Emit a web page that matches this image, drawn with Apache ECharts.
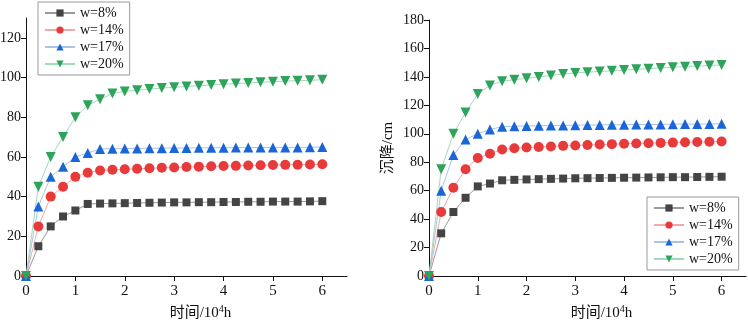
<!DOCTYPE html>
<html>
<head>
<meta charset="utf-8">
<script src="https://cdn.jsdelivr.net/npm/echarts@6/dist/echarts.min.js"></script>
<style>
  html, body { margin: 0; padding: 0; background: #fff; }
  #chart { width: 748px; height: 325px; }
</style>
</head>
<body>
<div id="chart"></div>
<script>
// 时间 (10^4 h)
const times = [0, 0.25, 0.5, 0.75, 1, 1.25, 1.5, 1.75, 2, 2.25, 2.5, 2.75, 3, 3.25, 3.5, 3.75, 4, 4.25, 4.5, 4.75, 5, 5.25, 5.5, 5.75, 6];
const names = ['w=8%', 'w=14%', 'w=17%', 'w=20%'];
const xTicks = [0, 1, 2, 3, 4, 5, 6];
const leftYTicks = [0, 20, 40, 60, 80, 100, 120];
const rightYTicks = [0, 20, 40, 60, 80, 100, 120, 140, 160, 180];

// 左图
const left8 = [0, 15, 25, 30, 33, 36.3, 36.5, 36.6, 36.7, 36.8, 36.9, 37.0, 37.1, 37.1, 37.2, 37.2, 37.3, 37.3, 37.4, 37.4, 37.5, 37.5, 37.5, 37.6, 37.7];
const left14 = [0, 25, 40, 45, 50, 52, 53.2, 53.5, 53.8, 54, 54.3, 54.5, 54.7, 54.9, 55.1, 55.3, 55.4, 55.5, 55.7, 55.8, 55.9, 56, 56.1, 56.2, 56.3];
const left17 = [0, 35, 50, 55, 60, 62, 64, 64.1, 64.2, 64.3, 64.4, 64.4, 64.5, 64.5, 64.6, 64.6, 64.6, 64.7, 64.7, 64.7, 64.8, 64.8, 64.8, 64.9, 65];
const left20 = [0, 45, 60, 70, 80, 86, 89, 92, 93, 93.6, 94.2, 94.7, 95.1, 95.5, 95.9, 96.3, 96.6, 97.0, 97.3, 97.6, 97.9, 98.2, 98.4, 98.6, 98.9];

// 右图
const right8 = [0, 30, 45, 55, 63, 65, 67.3, 67.6, 67.9, 68.1, 68.3, 68.5, 68.7, 68.8, 68.9, 69, 69.1, 69.2, 69.3, 69.4, 69.5, 69.5, 69.6, 69.7, 69.8];
const right14 = [0, 45, 62, 75, 83, 86, 89, 89.8, 90.3, 90.7, 91.1, 91.5, 91.8, 92.1, 92.4, 92.7, 93, 93.2, 93.4, 93.6, 93.8, 94, 94.2, 94.4, 94.6];
const right17 = [0, 60, 85, 96, 100, 103, 105, 105.3, 105.5, 105.6, 105.8, 105.9, 106, 106.1, 106.2, 106.3, 106.4, 106.5, 106.5, 106.6, 106.7, 106.8, 106.8, 106.9, 107];
const right20 = [0, 75, 100, 115, 128, 134, 137, 138, 139, 140, 141, 142, 142.8, 143.3, 143.8, 144.3, 144.8, 145.3, 145.8, 146.3, 146.8, 147.2, 147.6, 148, 148.4];

const styles = [
  { symbol: 'rect', size: 8, color: '#444444', line: '#9a9a9a' },
  { symbol: 'circle', size: 10, color: '#e83a3a', line: '#eeaaaa' },
  { symbol: 'triangle', size: 10, color: '#1b66d6', line: '#a9c3e6' },
  { symbol: 'path://M0,0 L10,0 L5,9 Z', size: 10, color: '#2ea35c', line: '#a3d9bb' }
];

const serif = '"Liberation Serif", "Noto Sans CJK SC", serif';
const txt = { fontFamily: serif, fontSize: 15, color: '#111' };

function pair (xs, ys) {
  return xs.map((x, i) => [x, ys[i]]);
}

function makeSeries (data, idx) {
  return data.map((d, i) => ({
    name: names[i],
    type: 'line',
    xAxisIndex: idx,
    yAxisIndex: idx,
    data: pair(times, d),
    symbol: styles[i].symbol,
    symbolSize: styles[i].size,
    showSymbol: true,
    itemStyle: { color: styles[i].color },
    lineStyle: { color: styles[i].line, width: 1 },
    emphasis: { disabled: true },
    animation: false
  }));
}

function xAxis (idx) {
  return {
    type: 'value',
    gridIndex: idx,
    min: 0,
    max: 6.5,
    interval: 1,
    splitLine: { show: false },
    axisLine: { onZero: false, lineStyle: { color: '#111', width: 1 } },
    axisTick: { customValues: xTicks, length: 5, lineStyle: { color: '#111' } },
    axisLabel: Object.assign({ customValues: xTicks, margin: 8 }, txt),
    name: '时间/10{sup|4}h',
    nameLocation: 'middle',
    nameGap: 28,
    nameTextStyle: Object.assign({
      padding: [0, 0, 0, 28],
      rich: { sup: { fontFamily: serif, fontSize: 10, color: '#111', verticalAlign: 'top', padding: [0, 0, 8, 0] } }
    }, txt)
  };
}

function yAxis (idx, max, ticks, name) {
  return {
    type: 'value',
    gridIndex: idx,
    min: 0,
    max: max,
    interval: 20,
    splitLine: { show: false },
    axisLine: { show: true, lineStyle: { color: '#111', width: 1 } },
    axisTick: { show: true, customValues: ticks, length: 5, lineStyle: { color: '#111' } },
    axisLabel: Object.assign({ customValues: ticks, margin: 5 }, txt, { fontSize: 14 }),
    name: name,
    nameLocation: 'middle',
    nameGap: 33,
    nameTextStyle: txt
  };
}

function legend (idx, pos) {
  return Object.assign({
    data: names,
    orient: 'vertical',
    itemWidth: 30,
    itemHeight: 9,
    itemGap: 3,
    padding: [4, 6, 4, 6],
    borderColor: '#999',
    borderWidth: 1,
    backgroundColor: '#fff',
    textStyle: Object.assign({}, txt, { fontSize: 14 }),
    selectedMode: false,
    seriesIndex: idx
  }, pos);
}

const chart = echarts.init(document.getElementById('chart'));
chart.setOption({
  backgroundColor: '#fff',
  animation: false,
  grid: [
    { left: 26, top: 18, width: 321, bottom: 49, containLabel: false, outerBoundsMode: 'none' },
    { left: 429, top: 20, width: 317, bottom: 49, containLabel: false, outerBoundsMode: 'none' }
  ],
  xAxis: [xAxis(0), xAxis(1)],
  yAxis: [
    yAxis(0, 130, leftYTicks, ''),
    yAxis(1, 180, rightYTicks, '沉降/cm')
  ],
  legend: [
    legend(0, { left: 38, top: 2 }),
    legend(1, { left: 647, top: 197 })
  ],
  series: makeSeries([left8, left14, left17, left20], 0)
    .concat(makeSeries([right8, right14, right17, right20], 1))
});
</script>
</body>
</html>
